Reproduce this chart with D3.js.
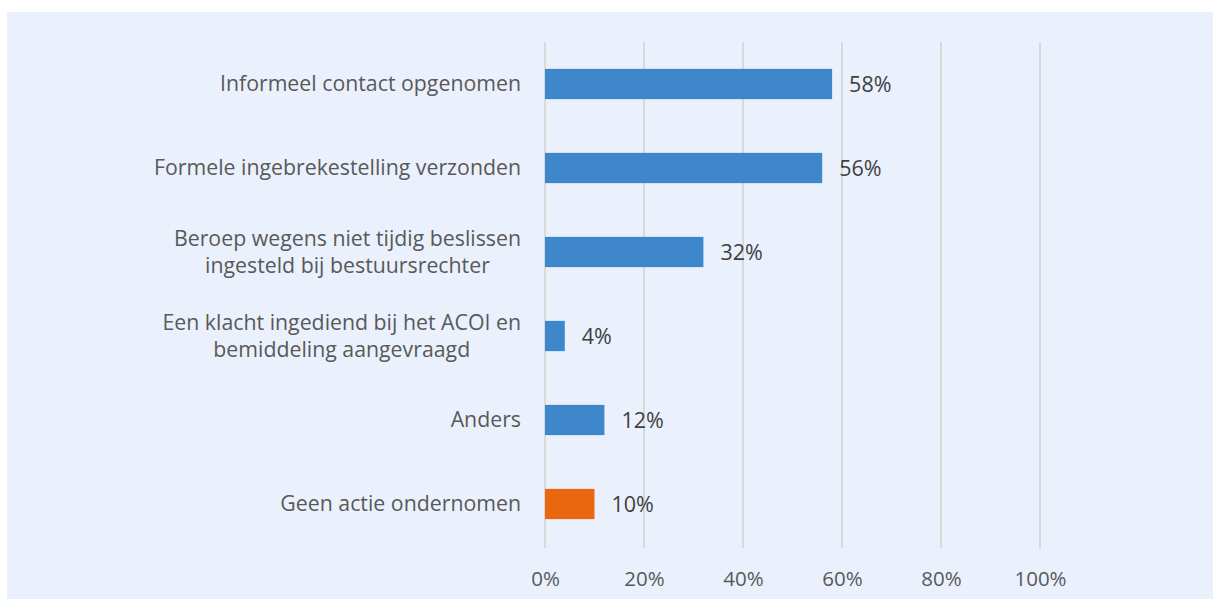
<!DOCTYPE html>
<html>
<head>
<meta charset="utf-8">
<script src="https://cdn.jsdelivr.net/npm/d3@7"></script>
<style>
  html, body { margin: 0; padding: 0; background: #ffffff; }
  svg { display: block; }
  text { font-family: "Open Sans", "Lato", sans-serif; }
</style>
</head>
<body>
<svg id="chart" width="1213" height="599"></svg>
<script>
// Actions taken (share of respondents)
const categories = [
  ["Informeel contact opgenomen"],
  ["Formele ingebrekestelling verzonden"],
  ["Beroep wegens niet tijdig beslissen", "ingesteld bij bestuursrechter"],
  ["Een klacht ingediend bij het ACOI en", "bemiddeling aangevraagd"],
  ["Anders"],
  ["Geen actie ondernomen"]
];
const values = [58, 56, 32, 4, 12, 10];
const highlight = [false, false, false, false, false, true];
const tickValues = [0, 20, 40, 60, 80, 100];

const svg = d3.select("#chart");

// panel background
svg.append("rect")
  .attr("x", 7).attr("y", 12)
  .attr("width", 1206).attr("height", 587)
  .attr("fill", "#eaf1fd");

const x = d3.scaleLinear().domain([0, 100]).range([545, 1040]);
const y = d3.scaleBand()
  .domain(d3.range(categories.length))
  .range([42, 546])
  .paddingInner(0.64)
  .paddingOuter(0.32);

// vertical gridlines
svg.append("g")
  .selectAll("line")
  .data(tickValues)
  .join("line")
  .attr("x1", d => x(d)).attr("x2", d => x(d))
  .attr("y1", 42).attr("y2", 548)
  .attr("stroke", "#d9d9d9")
  .attr("stroke-width", 2);

// x axis labels
const xAxis = d3.axisBottom(x)
  .tickValues(tickValues)
  .tickSize(0)
  .tickPadding(0)
  .tickFormat(d => d + "%");
const gx = svg.append("g")
  .attr("transform", "translate(0,586)")
  .call(xAxis);
gx.select(".domain").remove();
gx.selectAll("text")
  .attr("dy", 0)
  .attr("fill", "#595959")
  .style("font-family", "'Open Sans', sans-serif")
  .style("font-size", "20.5px");

// bars
svg.append("g")
  .selectAll("rect")
  .data(values)
  .join("rect")
  .attr("x", x(0))
  .attr("y", (d, i) => y(i))
  .attr("width", d => x(d) - x(0))
  .attr("height", y.bandwidth())
  .attr("fill", (d, i) => highlight[i] ? "#ea6610" : "#3e87cb");

// value labels
svg.append("g")
  .selectAll("text")
  .data(values)
  .join("text")
  .attr("x", d => x(d) + 17)
  .attr("y", (d, i) => y(i) + y.bandwidth() / 2 + 8)
  .attr("fill", "#404040")
  .style("font-size", "21.5px")
  .text(d => d + "%");

// category labels: wrapped lines centred on each other, block right-aligned
const yAxis = d3.axisLeft(y).tickSize(0).tickPadding(0).tickFormat("");
const gy = svg.append("g").attr("transform", "translate(521,0)").call(yAxis);
gy.select(".domain").remove();
gy.selectAll(".tick").each(function(i) {
  const lines = categories[i];
  const g = d3.select(this);
  const t = g.append("text")
    .attr("text-anchor", "middle")
    .attr("fill", "#595959")
    .style("font-size", "21.3px");
  const lh = 27;
  const start = -(lines.length - 1) * lh / 2 + 7;
  lines.forEach((ln, k) => {
    t.append("tspan").attr("x", 0).attr("y", start + k * lh).text(ln);
  });
  const w = t.node().getBBox().width;
  t.attr("transform", `translate(${-w / 2},0)`);
});
</script>
</body>
</html>
